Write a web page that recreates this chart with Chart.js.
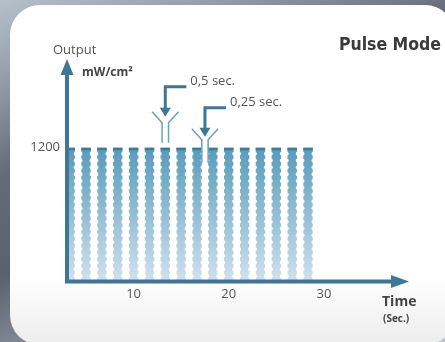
<!DOCTYPE html>
<html>
<head>
<meta charset="utf-8">
<title>Pulse Mode</title>
<script src="https://cdn.jsdelivr.net/npm/chart.js@4.4.1/dist/chart.umd.min.js"></script>
<style>
  html, body { margin: 0; padding: 0; }
  body {
    width: 445px; height: 342px; overflow: hidden; position: relative;
    background: linear-gradient(160deg, #b6c0cb 0%, #96a0ad 15%, #646b78 35%, #5b616d 55%, #8e98a6 75%, #bcc6d1 100%);
  }
  .card {
    position: absolute; left: 10px; top: 5px; width: 445px; height: 340px;
    border-radius: 30px;
    background: linear-gradient(to bottom, #ffffff 0%, #ffffff 80%, #ececec 100%);
  }
  #chart { position: absolute; left: 0; top: 0; }
</style>
</head>
<body>
<div class="card"></div>
<canvas id="chart" width="445" height="342"></canvas>
<script>
// DATA
const pulseTimes = [3.33, 5, 6.67, 8.33, 10, 11.67, 13.33, 15, 16.67, 18.33, 20, 21.67, 23.33, 25, 26.67, 28.33];
const outputLevels = [1200, 1200, 1200, 1200, 1200, 1200, 1200, 1200, 1200, 1200, 1200, 1200, 1200, 1200, 1200, 1200];
const timeTicks = [10, 20, 30];
const outputTicks = [1200];

const AXIS = "#3f7696";
const TEXT = "#555555";
const FONT = "'Open Sans', sans-serif";
const NARROW = "'Liberation Sans Narrow', 'DejaVu Sans Condensed', sans-serif";

// arrow + "Y" bracket over a pulse / gap
function drawMarker(ctx, x1, x2, top, bottom, tipY, lineY, label) {
    const mid = (x1 + x2) / 2;
    ctx.strokeStyle = "#6aa1bf";
    ctx.lineWidth = 1.5;
    ctx.beginPath();
    ctx.moveTo(x1 - 10, top - 11);
    ctx.lineTo(x1, top);
    ctx.lineTo(x1, bottom);
    ctx.moveTo(x2 + 10, top - 11);
    ctx.lineTo(x2, top);
    ctx.lineTo(x2, bottom);
    ctx.stroke();

    ctx.strokeStyle = AXIS;
    ctx.fillStyle = AXIS;
    ctx.lineWidth = 3;
    ctx.beginPath();
    ctx.moveTo(mid + 21, lineY);
    ctx.lineTo(mid, lineY);
    ctx.lineTo(mid, tipY - 7);
    ctx.stroke();
    ctx.beginPath();
    ctx.moveTo(mid - 5.5, tipY - 9);
    ctx.lineTo(mid + 5.5, tipY - 9);
    ctx.lineTo(mid, tipY);
    ctx.closePath();
    ctx.fill();

    ctx.fillStyle = TEXT;
    ctx.font = "13px " + FONT;
    ctx.textAlign = "left";
    ctx.textBaseline = "middle";
    ctx.fillText(label, mid + 25, lineY - 5);
}

const decor = {
    id: "decor",
    afterDatasetsDraw(chart) {
        const { ctx, chartArea } = chart;
        const bars = chart.getDatasetMeta(0).data;

        // scalloped edges and dark caps
        ctx.save();
        ctx.beginPath();
        ctx.rect(chartArea.left, 0, chartArea.right - chartArea.left, chartArea.bottom + 1);
        ctx.clip();
        bars.forEach(b => {
            const l = b.x - b.width / 2, r = b.x + b.width / 2;
            ctx.fillStyle = "#ffffff";
            for (let yy = b.y + 6; yy < b.base - 1; yy += 6.8) {
                ctx.beginPath();
                ctx.ellipse(l, yy, 1.2, 1.8, 0, 0, Math.PI * 2);
                ctx.fill();
                ctx.beginPath();
                ctx.ellipse(r, yy, 1.2, 1.8, 0, 0, Math.PI * 2);
                ctx.fill();
            }
            ctx.fillStyle = "#3e7b9b";
            ctx.fillRect(l, b.y, b.width, 2.5);
        });
        ctx.restore();

        // axes with arrows
        const L = chartArea.left, B = chartArea.bottom + 1.5;
        ctx.save();
        ctx.strokeStyle = AXIS;
        ctx.fillStyle = AXIS;
        ctx.lineWidth = 4;
        ctx.beginPath();
        ctx.moveTo(L, B + 2);
        ctx.lineTo(L, chartArea.top + 8);
        ctx.moveTo(L - 2, B);
        ctx.lineTo(chartArea.right - 8, B);
        ctx.stroke();
        ctx.beginPath();
        ctx.moveTo(L, chartArea.top - 5);
        ctx.lineTo(L - 6.5, chartArea.top + 11);
        ctx.lineTo(L + 6.5, chartArea.top + 11);
        ctx.closePath();
        ctx.fill();
        ctx.beginPath();
        ctx.moveTo(chartArea.right + 9, B);
        ctx.lineTo(chartArea.right - 9, B - 6.5);
        ctx.lineTo(chartArea.right - 9, B + 6.5);
        ctx.closePath();
        ctx.fill();

        // pulse and gap markers
        const top = bars[0].y;
        const p = bars[6];
        drawMarker(ctx, p.x - p.width / 2 + 1.5, p.x + p.width / 2 - 1.5,
            top - 25, top - 5, top - 31, top - 61, "0,5 sec.");
        const g1 = bars[8], g2 = bars[9];
        drawMarker(ctx, g1.x + g1.width / 2, g2.x - g2.width / 2,
            top - 8, top + 15, top - 11, top - 40, "0,25 sec.");

        // titles
        ctx.fillStyle = TEXT;
        ctx.textBaseline = "middle";
        ctx.textAlign = "left";
        ctx.font = "13px " + FONT;
        ctx.fillText("Output", 53, 50);
        ctx.fillStyle = "#444444";
        ctx.font = "bold 12px " + FONT;
        ctx.fillText("mW/cm²", 82, 73);
        ctx.font = "bold 17.5px " + NARROW;
        ctx.fillStyle = "#3a3a3a";
        ctx.textAlign = "right";
        ctx.fillText("Pulse Mode", 441, 45);
        ctx.textAlign = "left";
        ctx.fillStyle = "#444444";
        ctx.font = "bold 14px " + FONT;
        ctx.fillText("Time", 382, 302);
        ctx.font = "bold 10px " + FONT;
        ctx.fillText("(Sec.)", 383, 319);
        ctx.restore();
    }
};

new Chart(document.getElementById("chart"), {
    type: "bar",
    data: {
        datasets: [{
            data: pulseTimes.map((t, i) => ({ x: t, y: outputLevels[i] })),
            backgroundColor: c => {
                const area = c.chart.chartArea;
                if (!area) return "#8fbbd3";
                const y0 = c.chart.scales.y.getPixelForValue(Math.max(...outputLevels));
                const grad = c.chart.ctx.createLinearGradient(0, y0, 0, area.bottom);
                grad.addColorStop(0, "#589bba");
                grad.addColorStop(1, "#cfe0ed");
                return grad;
            },
            borderWidth: 0,
            barPercentage: 0.6,
            categoryPercentage: 1
        }]
    },
    options: {
        responsive: false,
        animation: false,
        layout: { padding: { left: 20, right: 45, top: 64, bottom: 32 } },
        plugins: { legend: { display: false }, tooltip: { enabled: false } },
        scales: {
            x: {
                type: "linear",
                offset: false,
                min: 3,
                max: 38,
                afterBuildTicks: s => { s.ticks = timeTicks.map(v => ({ value: v })); },
                afterFit: s => { s.height = 30; },
                grid: { display: false, drawTicks: false, offset: false },
                border: { display: false },
                ticks: { color: TEXT, font: { family: FONT, size: 13 }, padding: 6 }
            },
            y: {
                min: 0,
                max: 1960,
                afterBuildTicks: s => { s.ticks = outputTicks.map(v => ({ value: v })); },
                afterFit: s => { s.width = 47; },
                grid: { display: false, drawTicks: false },
                border: { display: false },
                ticks: {
                    color: TEXT, font: { family: FONT, size: 13 }, padding: 7,
                    callback: v => String(v)
                }
            }
        }
    },
    plugins: [decor]
});
</script>
</body>
</html>
